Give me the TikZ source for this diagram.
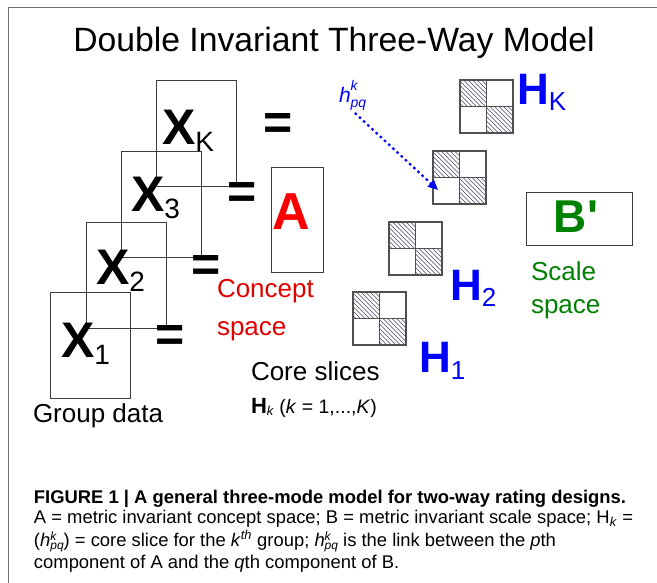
\documentclass[tikz,border=0pt]{standalone}
\usepackage{fontspec}
\setmainfont{Liberation Sans}
\usetikzlibrary{arrows.meta}
\definecolor{hblue}{RGB}{0,0,255}
\definecolor{ared}{RGB}{250,0,0}
\definecolor{cred}{RGB}{225,0,0}
\definecolor{bgreen}{RGB}{0,128,0}
\definecolor{framegray}{RGB}{110,110,110}
\definecolor{hatchc}{RGB}{70,70,105}
\definecolor{linegray}{RGB}{60,60,60}
\newcommand\hatchcell[3]{%
  \begin{scope}
    \clip (#1,#2) rectangle (#1+#3,#2+#3);
    \foreach \hh in {-28,-23.5,...,28} {\draw[hatchline] (#1+\hh,#2) -- (#1+\hh+#3,#2+#3);}
  \end{scope}}
\newcommand\coregrid[3]{% name, x, y (top-left)
  \hatchcell{#2}{#3}{26.5}
  \hatchcell{#2+26.5}{#3+26.5}{26.5}
  \node[gridbox, anchor=north west] (#1) at (#2,#3) {};
  \draw[gridline] (#1.north) -- (#1.south);
  \draw[gridline] (#1.west) -- (#1.east);}
\newcommand\hpqk{\textit{h}\rlap{\raisebox{5.5pt}{\fontsize{12}{12}\selectfont\itshape k}}\raisebox{-3.5pt}{\fontsize{12}{12}\selectfont\itshape pq}}
\begin{document}
\begin{tikzpicture}[x=1pt,y=-1pt,
  txt/.style={inner sep=0pt, outer sep=0pt, anchor=base west},
  xbox/.style={draw=linegray, line width=0.9pt, inner sep=0pt, outer sep=0pt,
    minimum width=80pt, minimum height=106pt, anchor=north west},
  gridbox/.style={draw=linegray!90, line width=1.3pt, inner sep=0pt, outer sep=0pt,
    minimum width=53pt, minimum height=53pt},
  gridline/.style={draw=linegray!90, line width=1.3pt},
  hatchline/.style={draw=hatchc, line width=0.6pt},
  xlab/.style={txt},
  eqs/.style={inner sep=0pt, outer sep=0pt, anchor=base, font=\fontsize{50}{50}\selectfont\bfseries},
  lbl/.style={txt, font=\fontsize{26}{26}\selectfont},
  hlab/.style={txt, text=hblue},
  captxt/.style={txt, font=\fontsize{18.4}{20}\selectfont},
  dotarrow/.style={draw=hblue, line width=2.2pt, dash pattern=on 2.5pt off 3.2pt,
    -{Triangle[length=10pt,width=9pt]}, shorten <=3pt}
  ]
\useasboundingbox (0,0) rectangle (657,583);
% frame
\draw[framegray, line width=1pt] (8,583) -- (8,8) -- (657,8);
% title
\node[inner sep=0pt, anchor=base, font=\fontsize{33.7}{34}\selectfont] (title) at (334,52) {Double Invariant Three-Way Model};

% group data boxes
\node[xbox] (bx1) at (50,292) {};
\node[xbox] (bx2) at (86,222) {};
\node[xbox] (bx3) at (121,151) {};
\node[xbox] (bxk) at (156,80) {};
\newcommand\xlabel[1]{{\fontsize{50}{50}\selectfont\bfseries X}{\fontsize{28}{28}\selectfont\raisebox{-7pt}{#1}}}
\node[xlab] (x1) at (61,357) {\xlabel{1}};
\node[xlab] (x2) at (96,285) {\xlabel{2}};
\node[xlab] (x3) at (131,212) {\xlabel{3}};
\node[xlab] (xk) at (162,145) {\xlabel{K}};
% equals
\node[eqs] (eq1) at (170,352) {=};
\node[eqs] (eq2) at (206,282) {=};
\node[eqs] (eq3) at (242,209) {=};
\node[eqs] (eqk) at (278,140) {=};
\node[lbl] (group) at (33,422) {Group data};

% concept space
\node[draw=linegray, line width=0.9pt, inner sep=0pt, minimum width=52pt, minimum height=105pt, anchor=north west] (abox) at (271,167) {};
\node[inner sep=0pt, anchor=base, text=ared, font=\fontsize{52}{52}\selectfont\bfseries] (alab) at (291,230) {A};
\node[lbl, text=cred] (concept1) at (217,298) {Concept};
\node[lbl, text=cred] (concept2) at (217,335) {space};

% core slices
\coregrid{g1}{353}{292}
\coregrid{g2}{389}{222}
\coregrid{g3}{433}{151}
\coregrid{gk}{460}{80}
\newcommand\hlabel[1]{{\fontsize{44}{44}\selectfont\bfseries H}{\fontsize{26}{26}\selectfont\raisebox{-6pt}{#1}}}
\node[hlab] (h1) at (419,373) {\hlabel{1}};
\node[hlab] (h2) at (450,301) {\hlabel{2}};
\node[hlab] (hk) at (517,105) {\hlabel{K}};
\node[lbl] (core) at (251,380) {Core slices};
\node[txt] (hkdef) at (251,413) {{\fontsize{22}{22}\selectfont\bfseries H}{\fontsize{13}{13}\selectfont\raisebox{-2pt}{\itshape k}}\hspace{6pt}{\fontsize{19.5}{20}\selectfont(\textit{k} = 1,...,\textit{K})}};

% link label and arrow
\node[hlab, font=\fontsize{21}{21}\selectfont\itshape] (hpq) at (339,103)
  {h\rlap{\raisebox{12pt}{\fontsize{14}{14}\selectfont k}}\raisebox{-5pt}{\fontsize{14}{14}\selectfont pq}};
\coordinate (tip) at (438,190);
\draw[dotarrow] (hpq.south) -- (tip);

% scale space
\node[draw=linegray, line width=0.9pt, inner sep=0pt, minimum width=106pt, minimum height=53pt, anchor=north west] (bbox) at (526,192) {};
\node[inner sep=0pt, anchor=base, text=bgreen, font=\fontsize{46}{46}\selectfont\bfseries] (blab) at (576,233) {B\textquotesingle};
\node[lbl, text=bgreen] (scale1) at (531,280) {Scale};
\node[lbl, text=bgreen] (scale2) at (531,313) {space};

% caption
\node[captxt, font=\fontsize{18.4}{20}\selectfont\bfseries] (cap0) at (34,503) {FIGURE 1 | A general three-mode model for two-way rating designs.};
\node[captxt] (cap1) at (34,523) {A = metric invariant concept space; B = metric invariant scale space; H\textsubscript{\textit{k}} =};
\node[captxt] (cap2) at (34,546) {(\hpqk) = core slice for the \textit{k}\textsuperscript{\textit{th}} group; \hpqk{} is the link between the \textit{p}th};
\node[captxt] (cap3) at (34,568) {component of A and the \textit{q}th component of B.};
\end{tikzpicture}
\end{document}
